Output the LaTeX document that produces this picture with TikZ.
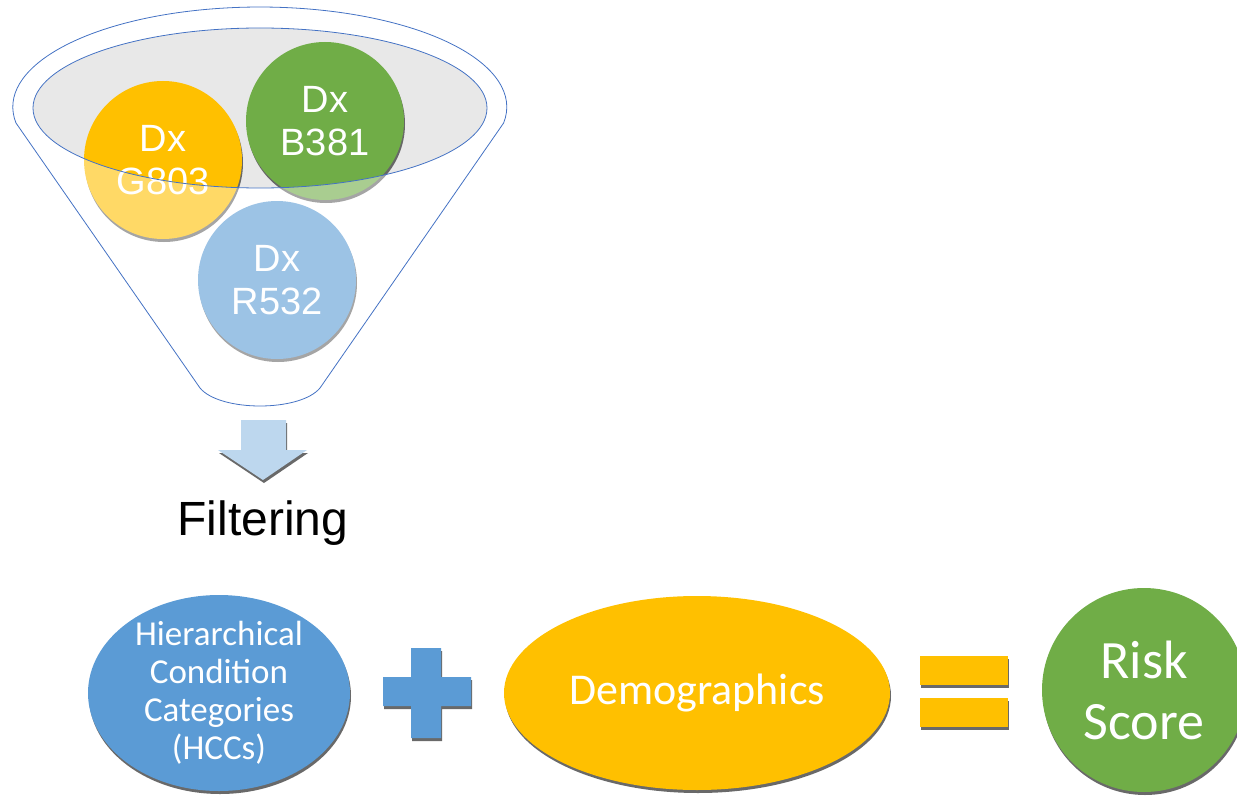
\documentclass[tikz,border=0pt]{standalone}
\usepackage{fontspec}
\setmainfont{Liberation Sans}
\newfontfamily\calibri{Carlito}
\usetikzlibrary{shapes.geometric,shadows}
\definecolor{dxyellow}{HTML}{FFC000}
\definecolor{dxgreen}{HTML}{70AD47}
\definecolor{dxblue}{HTML}{5B9BD5}
\definecolor{funnelline}{HTML}{4472C4}
\definecolor{rimgray}{HTML}{E8E8E8}
\definecolor{arrowblue}{HTML}{BDD7EE}

\begin{document}
\begin{tikzpicture}[
    x=1pt,y=-1pt,
    shadowed/.style={drop shadow={shadow xshift=1pt,shadow yshift=-3pt,fill=black!65,opacity=0.9}},
    dx/.style={circle,minimum size=158pt,inner sep=0pt,text=white,align=center,font=\fontsize{38}{43}\selectfont,shadowed},
    oval/.style={ellipse,inner sep=0pt,shadowed},
    ovaltext/.style={text=white,align=center,inner sep=0pt},
    bar/.style={fill=dxyellow,shadowed}
]
    \useasboundingbox (0,0) rectangle (1237,797);

    % Funnel opening
    \fill[rimgray] (260,108) ellipse [x radius=227, y radius=80];

    % Diagnoses in the funnel
    \node[dx,fill=dxyellow] (G803) at (163,160) {Dx\\G803};
    \node[dx,fill=dxgreen] (B381) at (325,121) {Dx\\B381};
    \node[dx,fill=dxblue] (R532) at (277,280) {Dx\\R532};

    % Funnel body over the circles
    \path[fill=white,fill opacity=0.4,even odd rule,draw=funnelline,line width=0.8pt]
        (16,123) arc[start angle=170.8, end angle=369.2, x radius=247, y radius=100]
        -- (320,388) .. controls (300,412) and (220,412) .. (200,388) -- cycle
        (260,108) ellipse [x radius=227, y radius=80];

    % Down arrow
    \fill[arrowblue,shadowed] (241,420) -- (286,420) -- (286,450) -- (307,450)
        -- (263,480) -- (218,450) -- (241,450) -- cycle;
    \node (filter) at (263,523) {\fontsize{48}{52}\selectfont Filtering};

    % Bottom row
    \node[oval,fill=dxblue,minimum width=262pt,minimum height=196pt] (hcc) at (219,693) {};
    \node[ovaltext,font=\calibri\fontsize{35}{38}\selectfont] (hcctext) at (hcc)
        {Hierarchical\\Condition\\Categories\\(HCCs)};

    \fill[dxblue,shadowed] (411,648) -- (441,648) -- (441,677) -- (471,677) -- (471,706)
        -- (441,706) -- (441,738) -- (411,738) -- (411,706) -- (383,706) -- (383,677)
        -- (411,677) -- cycle;

    \node[oval,fill=dxyellow,minimum width=386pt,minimum height=194pt] (demo) at (697,693) {};
    \node[ovaltext,font=\calibri\fontsize{44}{48}\selectfont] (demotext) at (demo) {Demographics};

    \fill[bar] (920,656) rectangle (1008,685);
    \fill[bar] (920,698) rectangle (1008,727);

    \node[circle,fill=dxgreen,minimum size=204pt,inner sep=0pt,shadowed,text=white,align=center,
        font=\calibri\fontsize{54}{61}\selectfont] (risk) at (1144,690) {Risk\\Score};
\end{tikzpicture}
\end{document}
